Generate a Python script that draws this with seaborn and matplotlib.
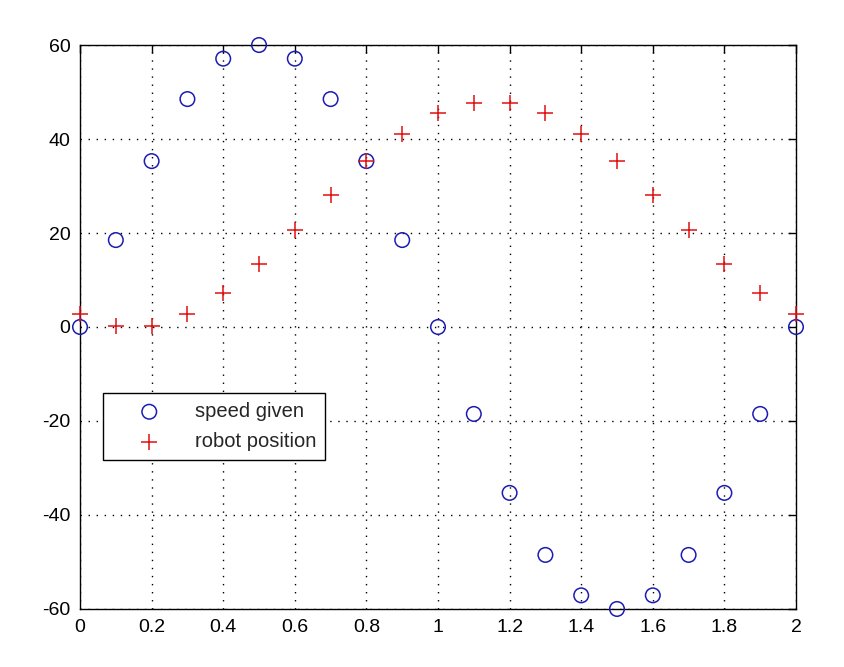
import matplotlib
matplotlib.use("Agg")
import matplotlib.pyplot as plt
import seaborn as sns

# values
t = [0.0, 0.1, 0.2, 0.3, 0.4, 0.5, 0.6, 0.7, 0.8, 0.9, 1.0,
     1.1, 1.2, 1.3, 1.4, 1.5, 1.6, 1.7, 1.8, 1.9, 2.0]
speed_given = [0, 18.5, 35.3, 48.5, 57.1, 60, 57.1, 48.5, 35.3, 18.5, 0,
               -18.5, -35.3, -48.5, -57.1, -60, -57.1, -48.5, -35.3, -18.5, 0]
robot_position = [2.8, 0.3, 0.3, 2.8, 7.3, 13.3, 20.6, 28, 35.3, 41, 45.5,
                  47.7, 47.7, 45.5, 41, 35.3, 28, 20.6, 13.3, 7.3, 2.8]

x_ticks = [0, 0.2, 0.4, 0.6, 0.8, 1.0, 1.2, 1.4, 1.6, 1.8, 2.0]
x_tick_labels = ["0", "0.2", "0.4", "0.6", "0.8", "1", "1.2", "1.4", "1.6", "1.8", "2"]
y_ticks = [-60, -40, -20, 0, 20, 40, 60]

sns.set_style("white")
plt.rcParams['font.family'] = ['Liberation Sans', 'DejaVu Sans']
plt.rcParams['axes.unicode_minus'] = False

fig = plt.figure(figsize=(8.45, 6.67), dpi=100)
ax = fig.add_axes([0.0947, 0.087, 0.8473, 0.8455])

sns.scatterplot(x=t, y=speed_given, ax=ax, marker='o', s=110,
                facecolors='none', edgecolor='#1c1cb4', linewidth=1.1,
                label='speed given', clip_on=False, zorder=3)
sns.scatterplot(x=t, y=robot_position, ax=ax, marker='+', s=130,
                color='#e01010', linewidth=1.1,
                label='robot position', clip_on=False, zorder=3)

ax.set_xlim(0, 2)
ax.set_ylim(-60, 60)
ax.set_xticks(x_ticks)
ax.set_xticklabels(x_tick_labels)
ax.set_yticks(y_ticks)

ax.grid(True, linestyle=(0, (1, 4.8)), color='black', linewidth=1.0)
ax.set_axisbelow(True)
for sp in ax.spines.values():
    sp.set_color('black')
    sp.set_linewidth(1.0)
ax.tick_params(direction='in', length=6, width=1, colors='black',
               top=True, right=True, labelsize=14, pad=7)

leg = ax.legend(loc='upper left', bbox_to_anchor=(0.032, 0.383),
                borderaxespad=0, fancybox=False, frameon=True,
                edgecolor='black', fontsize=14.5, handletextpad=0.4,
                handlelength=3.7, borderpad=0.45, labelspacing=0.55,
                framealpha=1)
leg.get_frame().set_linewidth(1.0)

fig.savefig('out.png', dpi=100, facecolor='white')
